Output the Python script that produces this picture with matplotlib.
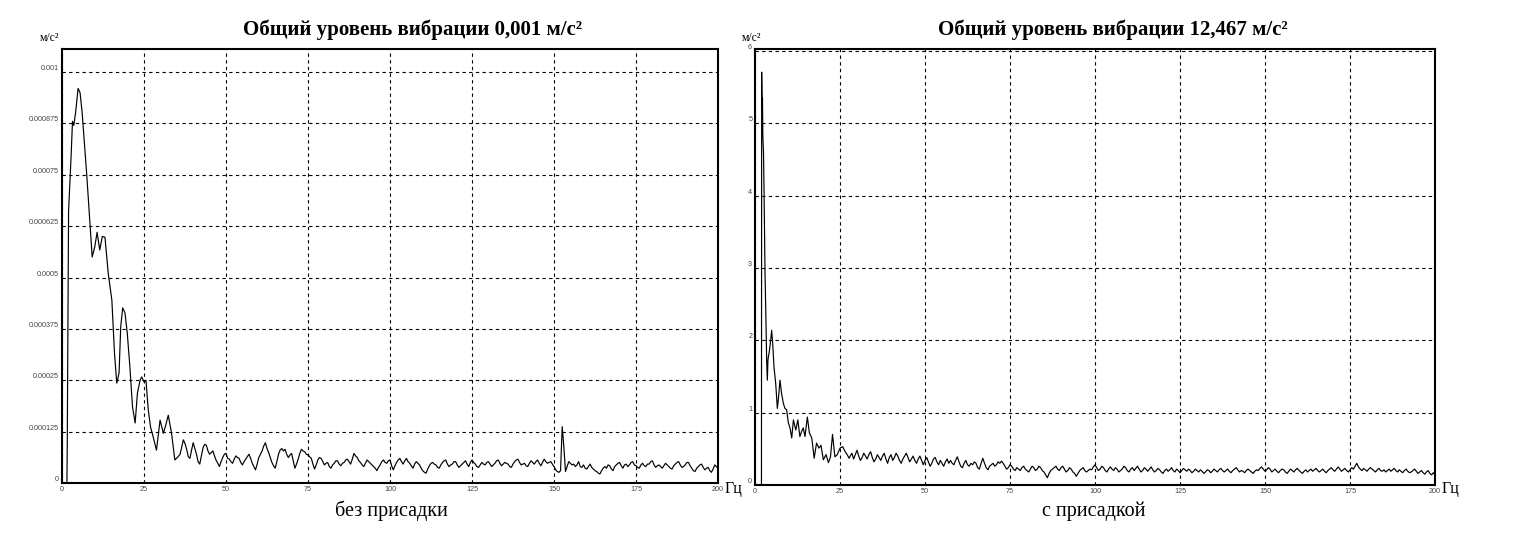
import numpy as np
import matplotlib
matplotlib.use("Agg")
import matplotlib.pyplot as plt

# ---------------- data ----------------
# Left panel ("без присадки"), values in 1e-6 m/s^2
left_head_freq = [0, 1.0, 1.5, 1.6, 1.8, 2.0, 2.4, 2.8, 3.2, 3.6, 4.2, 4.9, 5.5, 6.1, 6.7,
                  7.5, 8.5, 9.2, 10.0, 10.7, 11.5, 12.3, 13.1, 14.1, 15.2, 16.0, 16.7, 17.4,
                  17.9, 18.5, 19.2, 19.9, 20.7, 21.5, 22.3, 23.0, 23.8, 24.3, 25.0, 25.6,
                  26.3, 27.0, 27.8, 28.8, 29.9, 30.9, 31.6, 32.4, 33.4, 34.4, 35.4]
left_head_vals = [0, 0, 0, 90, 400, 660, 730, 800, 880, 870, 905, 960, 950, 905, 840,
                  755, 635, 550, 575, 610, 567, 600, 598, 510, 445, 316, 243, 268,
                  380, 426, 414, 365, 282, 185, 146, 219, 250, 258, 246, 250,
                  178, 136, 112, 80, 153, 121, 140, 165, 121, 56, 64]
left_tail_vals = [
    70, 88, 105, 96, 82, 64, 60, 80, 98, 84, 70, 52, 46, 66, 86, 94, 92, 78, 70, 74,
    78, 66, 55, 48, 40, 52, 62, 70, 72, 60, 58, 52, 48, 58, 66, 62, 60, 50, 44, 52,
    58, 64, 70, 60, 48, 40, 32, 46, 62, 70, 78, 90, 98, 84, 74, 62, 50, 42, 36, 52,
    70, 80, 84, 78, 82, 70, 62, 68, 72, 54, 36, 46, 58, 72, 82, 78, 76, 70, 68, 64,
    60, 46, 34, 44, 56, 62, 60, 52, 44, 48, 50, 40, 36, 44, 48, 54, 54, 46, 42, 48,
    50, 56, 58, 52, 46, 58, 72, 66, 62, 54, 50, 44, 40, 48, 56, 52, 48, 44, 40, 36,
    30, 38, 44, 52, 56, 50, 48, 54, 56, 42, 32, 42, 50, 56, 60, 52, 46, 54, 60, 52,
    48, 42, 36, 46, 52, 48, 44, 36, 30, 26, 24, 34, 42, 48, 50, 46, 44, 38, 36, 44,
    50, 54, 56, 46, 40, 44, 46, 52, 52, 44, 38, 42, 46, 50, 54, 46, 40, 50, 56, 50,
    46, 40, 38, 44, 50, 46, 44, 50, 52, 46, 40, 44, 48, 54, 56, 48, 42, 46, 50, 48,
    46, 40, 38, 46, 52, 56, 58, 50, 44, 46, 48, 42, 40, 48, 54, 50, 46, 52, 56, 48,
    42, 50, 58, 52, 48, 50, 52, 46, 40, 32, 28, 26, 30, 137, 88, 28, 40, 52, 48, 44,
    46, 40, 44, 52, 40, 38, 44, 36, 34, 40, 46, 38, 34, 30, 28, 24, 22, 30, 36, 40,
    36, 44, 42, 34, 30, 40, 44, 48, 50, 42, 36, 44, 46, 40, 44, 50, 52, 44, 42, 38,
    36, 44, 48, 42, 40, 46, 46, 52, 54, 44, 38, 42, 44, 40, 36, 42, 48, 44, 40, 36,
    34, 42, 46, 50, 52, 44, 38, 40, 44, 50, 50, 42, 36, 30, 28, 36, 40, 44, 46, 38,
    32, 36, 38, 30, 26, 34, 44, 40, 36]
left_tail_start, left_tail_step = 36.0, 0.5

# Right panel ("с присадкой"), values in m/s^2 (head) and 0.01 m/s^2 (tail)
right_head_freq = [0, 1.5, 1.9, 1.96, 2.1, 2.2, 2.3, 2.5, 2.65, 2.8, 2.94, 3.1, 3.24, 3.43,
                   3.63, 3.8, 3.92, 4.2, 4.61, 4.9, 5.2, 5.59, 6.1, 6.57, 6.9, 7.35, 7.8,
                   8.33, 8.8, 9.31, 9.8, 10.3, 10.8, 11.3, 12.0, 12.6, 13.2, 13.7, 14.2,
                   14.7, 15.4, 16.0, 16.7, 17.4, 18.1, 18.8, 19.4, 20.1, 20.9, 21.6, 22.2,
                   22.8, 23.5, 24.2, 25.0, 25.8, 26.4, 27.1, 27.7]
right_head_vals = [0, 0, 0, 5.71, 5.2, 5.35, 4.83, 4.6, 4.11, 3.5, 2.96, 2.6, 2.23, 1.72,
                   1.45, 1.72, 1.77, 1.84, 2.0, 2.14, 1.96, 1.63, 1.4, 1.06, 1.2, 1.45, 1.27,
                   1.13, 1.06, 1.04, 0.86, 0.79, 0.65, 0.90, 0.76, 0.90, 0.67, 0.74, 0.79,
                   0.67, 0.94, 0.72, 0.65, 0.37, 0.58, 0.51, 0.55, 0.35, 0.42, 0.31, 0.39,
                   0.70, 0.39, 0.42, 0.51, 0.53, 0.47, 0.42, 0.37]
right_tail_vals = [
    40, 44, 36, 42, 48, 40, 34, 38, 44, 40, 36, 42, 46, 38, 32, 36, 42, 38, 34, 40,
    44, 36, 30, 38, 42, 34, 38, 44, 40, 34, 30, 36, 40, 44, 38, 32, 36, 40, 34, 30,
    36, 40, 34, 28, 34, 38, 32, 26, 30, 36, 38, 32, 28, 34, 30, 26, 32, 36, 30, 34,
    30, 28, 34, 39, 32, 26, 24, 30, 34, 28, 26, 30, 28, 32, 30, 24, 22, 30, 37, 30,
    24, 21, 26, 28, 30, 26, 28, 32, 30, 33, 30, 26, 22, 24, 28, 26, 22, 20, 24, 22,
    20, 24, 26, 22, 20, 18, 22, 26, 24, 20, 22, 26, 24, 20, 18, 14, 10, 16, 20, 22,
    24, 26, 22, 20, 24, 26, 22, 18, 20, 24, 22, 18, 16, 12, 16, 20, 22, 24, 20, 18,
    20, 22, 21, 25, 28, 24, 20, 22, 26, 24, 20, 18, 22, 25, 22, 20, 24, 22, 18, 20,
    22, 26, 24, 20, 18, 22, 24, 20, 23, 26, 22, 18, 20, 24, 22, 19, 22, 25, 21, 18,
    20, 23, 21, 18, 16, 20, 22, 19, 21, 24, 20, 18, 22, 20, 17, 20, 23, 21, 19, 22,
    20, 17, 19, 22, 20, 18, 21, 19, 16, 18, 21, 20, 17, 19, 22, 20, 18, 21, 23, 20,
    18, 20, 22, 19, 17, 20, 22, 24, 21, 18, 20, 19, 17, 20, 22, 20, 18, 16, 19, 21,
    20, 23, 25, 22, 19, 21, 24, 22, 18, 20, 22, 19, 17, 20, 22, 21, 18, 16, 19, 22,
    20, 18, 21, 23, 20, 18, 16, 19, 21, 18, 20, 22, 19, 21, 23, 20, 18, 20, 22, 19,
    17, 20, 22, 24, 21, 19, 22, 25, 22, 19, 21, 23, 20, 18, 21, 24, 22, 26, 30, 25,
    22, 20, 23, 21, 19, 22, 24, 22, 20, 18, 21, 23, 20, 19, 21, 18, 20, 22, 19, 21,
    23, 20, 18, 21, 19, 17, 20, 22, 19, 17, 18, 20, 22, 19, 16, 18, 20, 17, 15, 18,
    20, 16, 14, 17, 14]
right_tail_start, right_tail_step = 28.0, 0.5

left_yticks = [0, 0.000125, 0.00025, 0.000375, 0.0005, 0.000625, 0.00075, 0.000875, 0.001]
left_ytick_labels = ["0", "0.000125", "0.00025", "0.000375", "0.0005", "0.000625",
                     "0.00075", "0.000875", "0.001"]
right_yticks = [0, 1, 2, 3, 4, 5, 6]
right_ytick_labels = ["0", "1", "2", "3", "4", "5", "6"]
xticks = [0, 25, 50, 75, 100, 125, 150, 175, 200]
xtick_labels = ["0", "25", "50", "75", "100", "125", "150", "175", "200"]

title_left = "Общий уровень вибрации 0,001 м/с²"
title_right = "Общий уровень вибрации 12,467 м/с²"
caption_left = "без присадки"
caption_right = "с присадкой"
unit_y = "м/с²"
unit_x = "Гц"

# ---------------- build series ----------------
lf_tail = left_tail_start + left_tail_step * np.arange(len(left_tail_vals))
left_f = np.concatenate([left_head_freq, lf_tail])
left_v = np.concatenate([left_head_vals, left_tail_vals]) * 1e-6

rf_tail = right_tail_start + right_tail_step * np.arange(len(right_tail_vals))
right_f = np.concatenate([right_head_freq, rf_tail])
right_v = np.concatenate([right_head_vals, np.array(right_tail_vals) * 0.01])

# ---------------- figure ----------------
W, H = 1515, 559
fig = plt.figure(figsize=(W / 100, H / 100), dpi=100)
fig.patch.set_facecolor("white")

def px_axes(x0, x1, ytop, ybot):
    return fig.add_axes([x0 / W, 1 - ybot / H, (x1 - x0) / W, (ybot - ytop) / H])

serif = ["Liberation Serif", "DejaVu Serif"]
tickfont = dict(family=["Liberation Sans", "DejaVu Sans"], size=5.2, color="#444444")

def style(ax, yt, ytl, ylim):
    ax.set_xlim(0, 200)
    ax.set_ylim(*ylim)
    ax.set_xticks(xticks)
    ax.set_xticklabels(xtick_labels, **tickfont)
    ax.set_yticks(yt)
    ax.set_yticklabels(ytl, **tickfont)
    for lab in ax.get_yticklabels():
        lab.set_verticalalignment("bottom")
    ax.tick_params(length=0, pad=2)
    ax.grid(True, color="black", linestyle=(0, (3, 3)), linewidth=0.8)
    for s in ax.spines.values():
        s.set_linewidth(1.5)
        s.set_color("black")

axL = px_axes(62, 718, 49, 483)
axL.plot(left_f, left_v, color="black", linewidth=0.85)
style(axL, left_yticks, left_ytick_labels, (0, 0.001056))

axR = px_axes(755, 1435, 49, 485)
axR.plot(right_f, right_v, color="black", linewidth=0.85)
style(axR, right_yticks, right_ytick_labels, (0, 6.03))

def ftext(x, y, s, **kw):
    fig.text(x / W, 1 - y / H, s, **kw)

ftext(413, 30, title_left, ha="center", va="center", family=serif, weight="bold", fontsize=15)
ftext(1113, 30, title_right, ha="center", va="center", family=serif, weight="bold", fontsize=15)
ftext(391, 511, caption_left, ha="center", va="center", family=serif, fontsize=14.5)
ftext(1094, 511, caption_right, ha="center", va="center", family=serif, fontsize=14.5)
ftext(50, 38, unit_y, ha="center", va="center", family=serif, fontsize=8.5)
ftext(752, 38, unit_y, ha="center", va="center", family=serif, fontsize=8.5)
ftext(725, 489, unit_x, ha="left", va="center", family=serif, fontsize=11.5)
ftext(1442, 489, unit_x, ha="left", va="center", family=serif, fontsize=11.5)

fig.savefig("out.png", dpi=100, facecolor="white")
